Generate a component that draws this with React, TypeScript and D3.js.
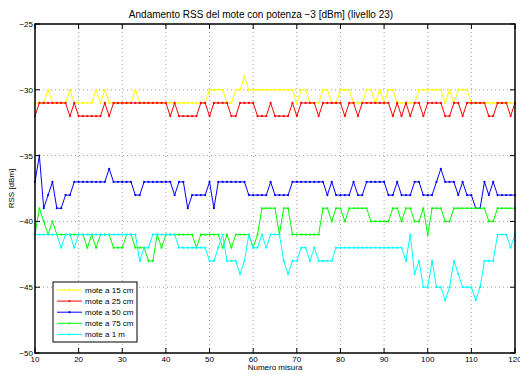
import React from "react";
import * as d3 from "d3";

// Measurement index range (one RSS reading per index)
const firstIndex = 10;

// RSS readings in dBm, one per measurement index from 10 to 120
const rss15cm = [
  -31, -31, -31, -30, -31, -31, -31, -31, -30, -31,
  -31, -31, -31, -31, -30, -31, -30, -31, -31, -31,
  -31, -31, -31, -30, -31, -31, -31, -31, -31, -31,
  -31, -31, -31, -31, -31, -31, -31, -31, -31, -31,
  -30, -30, -30, -30, -31, -31, -30, -30, -29, -30,
  -30, -30, -30, -30, -30, -30, -30, -30, -30, -30,
  -31, -30, -30, -31, -31, -31, -30, -30, -31, -31,
  -30, -30, -30, -31, -31, -31, -30, -30, -31, -30,
  -31, -30, -30, -31, -31, -31, -31, -31, -30, -30,
  -30, -30, -30, -30, -31, -30, -31, -30, -30, -30,
  -31, -31, -31, -31, -31, -31, -31, -31, -31, -31, -31,
];

const rss25cm = [
  -32, -31, -31, -31, -31, -31, -31, -31, -32, -31,
  -32, -32, -32, -32, -32, -32, -31, -32, -31, -31,
  -31, -31, -31, -31, -31, -31, -31, -31, -31, -31,
  -31, -32, -31, -32, -32, -32, -32, -32, -31, -31,
  -32, -31, -31, -31, -31, -32, -32, -31, -31, -31,
  -31, -32, -32, -32, -31, -32, -32, -32, -32, -31,
  -32, -31, -31, -31, -31, -32, -31, -31, -31, -31,
  -31, -32, -31, -31, -32, -31, -31, -31, -31, -31,
  -31, -31, -32, -31, -32, -31, -32, -31, -31, -32,
  -31, -31, -31, -31, -32, -32, -31, -31, -32, -31,
  -31, -31, -31, -31, -32, -32, -31, -31, -31, -32, -31,
];

const rss50cm = [
  -37, -35, -39, -38, -37, -39, -39, -38, -38, -37,
  -37, -37, -37, -37, -37, -37, -37, -36, -37, -37,
  -37, -37, -37, -38, -38, -37, -37, -37, -37, -37,
  -37, -37, -38, -37, -37, -39, -38, -38, -38, -38,
  -37, -39, -37, -37, -37, -37, -37, -37, -37, -38,
  -38, -38, -38, -38, -37, -38, -38, -38, -38, -37,
  -37, -37, -37, -37, -37, -37, -37, -38, -37, -38,
  -38, -38, -38, -37, -38, -38, -37, -37, -37, -37,
  -37, -38, -38, -37, -38, -38, -38, -37, -37, -38,
  -38, -38, -37, -36, -37, -37, -37, -38, -37, -38,
  -38, -39, -39, -37, -38, -37, -38, -38, -38, -38, -38,
];

const rss75cm = [
  -41, -39, -40, -41, -40, -41, -41, -41, -41, -41,
  -41, -41, -42, -41, -42, -41, -41, -41, -42, -42,
  -42, -41, -41, -42, -42, -42, -43, -43, -41, -42,
  -41, -41, -41, -41, -41, -41, -41, -42, -41, -41,
  -41, -41, -41, -42, -41, -42, -41, -41, -41, -41,
  -42, -41, -39, -39, -39, -39, -41, -39, -39, -41,
  -41, -41, -41, -41, -41, -41, -39, -39, -40, -39,
  -39, -40, -39, -39, -39, -39, -39, -40, -40, -40,
  -40, -40, -39, -39, -40, -39, -39, -40, -40, -39,
  -41, -39, -39, -39, -40, -40, -39, -39, -39, -39,
  -39, -39, -39, -39, -40, -40, -39, -39, -39, -39, -39,
];

const rss1m = [
  -41, -41, -41, -41, -41, -41, -42, -41, -41, -42,
  -41, -41, -41, -41, -41, -41, -41, -41, -41, -41,
  -41, -41, -41, -41, -43, -42, -42, -41, -41, -41,
  -41, -41, -41, -42, -42, -42, -42, -42, -42, -42,
  -43, -43, -42, -41, -43, -43, -43, -44, -43, -41,
  -42, -42, -41, -42, -41, -41, -41, -43, -44, -43,
  -43, -42, -42, -43, -42, -43, -43, -43, -43, -42,
  -42, -42, -42, -42, -42, -42, -42, -42, -42, -42,
  -42, -42, -42, -42, -42, -43, -41, -44, -43, -45,
  -45, -43, -45, -45, -46, -45, -43, -44, -45, -45,
  -45, -46, -45, -43, -43, -43, -41, -41, -41, -42, -41,
];

const seriesNames = ["mote a 15 cm", "mote a 25 cm", "mote a 50 cm", "mote a 75 cm", "mote a 1 m"];
const seriesColors = ["#ffff00", "#ff0000", "#0000ff", "#00ff00", "#00ffff"];
const seriesValues = [rss15cm, rss25cm, rss50cm, rss75cm, rss1m];

const xTicks = [10, 20, 30, 40, 50, 60, 70, 80, 90, 100, 110, 120];
const yTicks = [-50, -45, -40, -35, -30, -25];

const titleText = "Andamento RSS del mote con potenza \u22123 [dBm] (livello 23)";
const xLabel = "Numero misura";
const yLabel = "RSS [dBm]";

const W = 520;
const H = 375;
const left = 35;
const right = 515;
const top = 24;
const bottom = 353;
const font = "'Liberation Sans', Arial, Helvetica, sans-serif";

const fmt = (v: number) => (v < 0 ? "\u2212" + Math.abs(v) : String(v));

export default function App() {
  const x = d3.scaleLinear().domain([10, 120]).range([left, right]);
  const y = d3.scaleLinear().domain([-50, -25]).range([bottom, top]);

  const line = d3
    .line<number>()
    .x((_, i) => x(firstIndex + i))
    .y((v) => y(v));

  const tickLen = 5;
  const legendX = 53;
  const legendY = 282;
  const legendW = 84;
  const legendH = 60;
  const rowH = 11.1;

  return (
    <svg
      width={W}
      height={H}
      style={{ position: "absolute", left: 0, top: 0, background: "#fff" }}
      fontFamily={font}
    >
      <rect x={0} y={0} width={W} height={H} fill="#fff" />
      <rect x={left} y={top} width={right - left} height={bottom - top} fill="#fff" />

      {/* dotted grid */}
      <g stroke="#8a8a8a" strokeWidth={0.8} strokeDasharray="1,3">
        {xTicks.slice(1, -1).map((t) => (
          <line key={"gx" + t} x1={x(t)} x2={x(t)} y1={top} y2={bottom} />
        ))}
        {yTicks.slice(1, -1).map((t) => (
          <line key={"gy" + t} x1={left} x2={right} y1={y(t)} y2={y(t)} />
        ))}
      </g>

      {/* data series */}
      {seriesValues.map((vals, si) => (
        <g key={seriesNames[si]}>
          <path d={line(vals) || ""} fill="none" stroke={seriesColors[si]} strokeWidth={1} />
          {vals.map((v, i) => (
            <circle key={i} cx={x(firstIndex + i)} cy={y(v)} r={1.1} fill={seriesColors[si]} />
          ))}
        </g>
      ))}

      {/* axes box and inward ticks */}
      <g stroke="#000" strokeWidth={1}>
        {xTicks.map((t) => (
          <g key={"tx" + t}>
            <line x1={x(t)} x2={x(t)} y1={bottom} y2={bottom - tickLen} />
            <line x1={x(t)} x2={x(t)} y1={top} y2={top + tickLen} />
          </g>
        ))}
        {yTicks.map((t) => (
          <g key={"ty" + t}>
            <line x1={left} x2={left + tickLen} y1={y(t)} y2={y(t)} />
            <line x1={right} x2={right - tickLen} y1={y(t)} y2={y(t)} />
          </g>
        ))}
        <rect x={left} y={top} width={right - left} height={bottom - top} fill="none" strokeWidth={1.5} />
      </g>

      {/* tick labels */}
      <g fontSize={8} fill="#000">
        {xTicks.map((t) => (
          <text key={"lx" + t} x={x(t)} y={bottom + 9} textAnchor="middle">
            {t}
          </text>
        ))}
        {yTicks.map((t) => (
          <text key={"ly" + t} x={left - 2} y={y(t) + 3} textAnchor="end">
            {fmt(t)}
          </text>
        ))}
      </g>

      {/* titles */}
      <text x={261} y={18} textAnchor="middle" fontSize={10} fill="#000">
        {titleText}
      </text>
      <text x={(left + right) / 2} y={370} textAnchor="middle" fontSize={8} fill="#000">
        {xLabel}
      </text>
      <text
        transform={`translate(14, ${(top + bottom) / 2}) rotate(-90)`}
        textAnchor="middle"
        fontSize={8}
        fill="#000"
      >
        {yLabel}
      </text>

      {/* legend */}
      <g>
        <rect x={legendX} y={legendY} width={legendW} height={legendH} fill="#fff" stroke="#000" strokeWidth={1} />
        {seriesNames.map((name, i) => {
          const ly = legendY + 8 + i * rowH;
          return (
            <g key={"lg" + name}>
              <line x1={legendX + 4} x2={legendX + 29} y1={ly} y2={ly} stroke={seriesColors[i]} strokeWidth={1} />
              <circle cx={legendX + 16.5} cy={ly} r={1.1} fill={seriesColors[i]} />
              <text x={legendX + 32} y={ly + 3} fontSize={8} fill="#000">
                {name}
              </text>
            </g>
          );
        })}
      </g>
    </svg>
  );
}
